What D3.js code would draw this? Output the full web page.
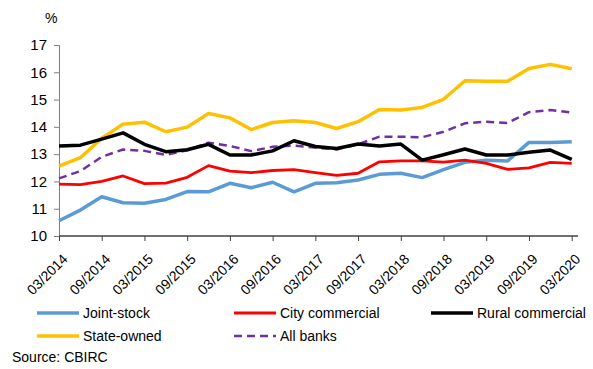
<!DOCTYPE html>
<html>
<head>
<meta charset="utf-8">
<script src="https://cdn.jsdelivr.net/npm/d3@7"></script>
<style>
  body { margin: 0; background: #fff; }
  text { font-family: "Liberation Sans", Arial, sans-serif; fill: #000; }
</style>
</head>
<body>
<div id="vis"></div>
<script>

var width = 593,
    height = 369;

// quarterly, 03/2014 .. 03/2020
var quarters = ["03/2014","06/2014","09/2014","12/2014","03/2015","06/2015","09/2015","12/2015",
    "03/2016","06/2016","09/2016","12/2016","03/2017","06/2017","09/2017","12/2017",
    "03/2018","06/2018","09/2018","12/2018","03/2019","06/2019","09/2019","12/2019","03/2020"];

var jointStock = [10.56,10.95,11.44,11.22,11.20,11.34,11.63,11.62,11.93,11.77,11.97,11.62,
    11.93,11.95,12.05,12.26,12.30,12.14,12.43,12.70,12.78,12.75,13.43,13.43,13.45];
var cityCommercial = [11.90,11.88,12.00,12.20,11.92,11.94,12.15,12.58,12.38,12.32,12.40,12.43,
    12.32,12.22,12.30,12.72,12.75,12.75,12.71,12.78,12.66,12.44,12.50,12.70,12.66];
var ruralCommercial = [13.30,13.33,13.55,13.78,13.36,13.09,13.16,13.36,12.97,12.97,13.12,13.49,
    13.28,13.21,13.37,13.30,13.37,12.78,12.98,13.19,12.97,12.97,13.07,13.15,12.81];
var stateOwned = [12.56,12.87,13.58,14.10,14.17,13.82,13.99,14.49,14.33,13.90,14.16,14.22,
    14.16,13.94,14.19,14.64,14.62,14.71,15.01,15.69,15.67,15.67,16.14,16.29,16.13];
var allBanks = [12.11,12.38,12.90,13.17,13.12,12.97,13.14,13.42,13.30,13.11,13.27,13.31,
    13.24,13.17,13.36,13.64,13.64,13.62,13.82,14.13,14.19,14.14,14.54,14.62,14.52];

var yTicks = [10, 11, 12, 13, 14, 15, 16, 17];
var xTickLabels = quarters.filter(function(d, i) { return i % 2 === 0; });

var series = [
    { name: "Joint-stock", values: jointStock, color: "#5B9BD5", width: 3.5, dash: null },
    { name: "City commercial", values: cityCommercial, color: "#FF0000", width: 2.8, dash: null },
    { name: "Rural commercial", values: ruralCommercial, color: "#000000", width: 3.5, dash: null },
    { name: "State-owned", values: stateOwned, color: "#FFC000", width: 3.5, dash: null },
    { name: "All banks", values: allBanks, color: "#7030A0", width: 2.5, dash: "8,5" }
];

var svg = d3.select("#vis").append("svg")
    .attr("width", width)
    .attr("height", height);

var x = d3.scalePoint()
    .domain(quarters)
    .range([59, 571.7]);

var y = d3.scaleLinear()
    .domain([10, 17])
    .range([236, 45]);

// y axis
var yAxis = svg.append("g")
    .attr("transform", "translate(59,0)")
    .call(d3.axisLeft(y).tickValues(yTicks).tickFormat(d3.format("d")).tickSize(5).tickPadding(7));
yAxis.select(".domain").attr("stroke", "#808080");
yAxis.selectAll(".tick line").attr("stroke", "#808080");
yAxis.selectAll(".tick text")
    .style("font-size", "15px")
    .attr("fill", "#000");

svg.append("text")
    .attr("x", 45)
    .attr("y", 23)
    .style("font-size", "14px")
    .text("%");

// x axis
var xAxis = svg.append("g")
    .attr("transform", "translate(0,236)")
    .call(d3.axisBottom(x).tickValues(xTickLabels).tickSize(5).tickSizeOuter(0));
xAxis.select(".domain").attr("d", "M59,0H578").attr("stroke", "#404040").attr("stroke-width", 1.3);
xAxis.selectAll(".tick line").attr("stroke", "#404040");
xAxis.selectAll(".tick text")
    .style("font-size", "14px")
    .attr("fill", "#000")
    .attr("text-anchor", "end")
    .attr("y", 0)
    .attr("dy", 0)
    .attr("transform", "translate(9,24) rotate(-45)");

// lines
var line = d3.line()
    .x(function(d, i) { return x(quarters[i]); })
    .y(function(d) { return y(d); });

var drawOrder = [3, 4, 0, 1, 2];
drawOrder.forEach(function(k) {
    var s = series[k];
    svg.append("path")
        .datum(s.values)
        .attr("fill", "none")
        .attr("stroke", s.color)
        .attr("stroke-width", s.width)
        .attr("stroke-linejoin", "round")
        .attr("stroke-dasharray", s.dash)
        .attr("d", line);
});

// legend
var legendPos = [[37, 313], [234, 313], [431, 313], [37, 336], [234, 336]];
var legend = svg.selectAll(".legend")
    .data(series)
    .enter().append("g")
    .attr("class", "legend")
    .attr("transform", function(d, i) { return "translate(" + legendPos[i] + ")"; });

legend.append("line")
    .attr("x1", 0)
    .attr("x2", 42)
    .attr("stroke", function(d) { return d.color; })
    .attr("stroke-width", function(d) { return d.width; })
    .attr("stroke-dasharray", function(d) { return d.dash; });

legend.append("text")
    .attr("x", 46)
    .attr("dy", "0.35em")
    .style("font-size", "14px")
    .text(function(d) { return d.name; });

svg.append("text")
    .attr("x", 12)
    .attr("y", 362)
    .style("font-size", "14px")
    .text("Source: CBIRC");

</script>
</body>
</html>
